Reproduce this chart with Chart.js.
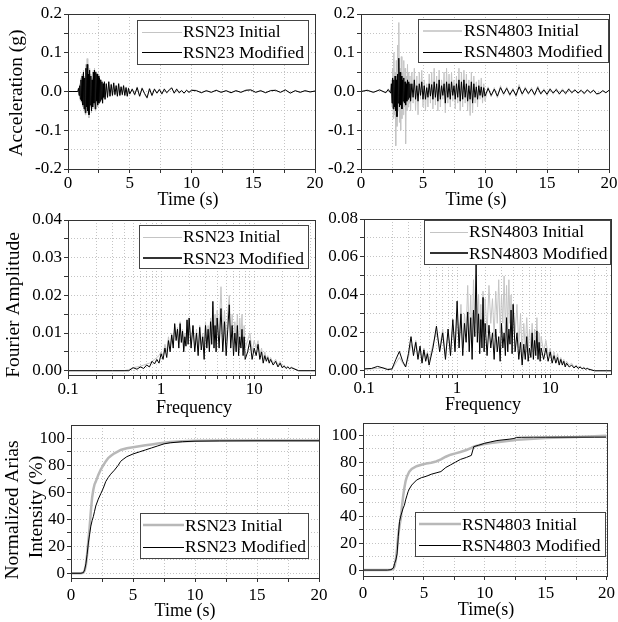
<!DOCTYPE html>
<html>
<head>
<meta charset="utf-8">
<script src="https://cdn.jsdelivr.net/npm/chart.js@4.4.0/dist/chart.umd.min.js"></script>
<style>
html, body { margin: 0; padding: 0; background: #fff; }
#wrap { position: relative; width: 618px; height: 622px; overflow: hidden; }
#wrap canvas { position: absolute; left: 0; top: 0; }
</style>
</head>
<body>
<div id="wrap">
  <canvas id="accel23" width="618" height="622"></canvas>
  <canvas id="accel4803" width="618" height="622"></canvas>
  <canvas id="fourier23" width="618" height="622"></canvas>
  <canvas id="fourier4803" width="618" height="622"></canvas>
  <canvas id="arias23" width="618" height="622"></canvas>
  <canvas id="arias4803" width="618" height="622"></canvas>
</div>
<script>
// --- RSN23 acceleration (g) vs time (s) ---
const time23 = [0, 0.4, 0.8, 0.85, 0.9, 0.95, 1.0, 1.05, 1.1, 1.15, 1.2, 1.25, 1.3, 1.35, 1.4, 1.45, 1.5, 1.55, 1.6, 1.65,
  1.7, 1.75, 1.8, 1.85, 1.9, 1.95, 2.0, 2.05, 2.1, 2.15, 2.2, 2.25, 2.3, 2.35, 2.4, 2.45, 2.5, 2.55, 2.6, 2.65,
  2.7, 2.75, 2.8, 2.85, 2.9, 2.95, 3.0,
  3.1, 3.2, 3.3, 3.4, 3.5, 3.6, 3.7, 3.8, 3.9, 4.0, 4.1, 4.2, 4.3, 4.4, 4.5, 4.6, 4.7, 4.8, 4.9, 5.0,
  5.2, 5.4, 5.6, 5.8, 6.0, 6.2, 6.4, 6.6, 6.8, 7.0, 7.2, 7.4, 7.6, 7.8, 8.0, 8.2, 8.4, 8.6, 8.8, 9.0, 9.2, 9.4, 9.6, 9.8, 10.0,
  10.4, 10.8, 11.2, 11.6, 12.0, 12.4, 12.8, 13.2, 13.6, 14.0, 14.4, 14.8, 15.2, 15.6, 16.0, 16.4, 16.8, 17.2, 17.6, 18.0,
  18.4, 18.8, 19.2, 19.6, 20.0];
const accel23Initial = [0, 0, 0, 0.01, -0.012, 0.02, -0.025, 0.035, -0.03, 0.045, -0.04, 0.055, -0.05, 0.04, -0.06, 0.07, -0.045, 0.085, -0.055, 0.05,
  -0.068, 0.06, -0.04, 0.045, -0.055, 0.035, -0.045, 0.055, -0.035, 0.06, -0.05, 0.052, -0.03, 0.048, -0.04, 0.044, -0.032, 0.038, -0.028, 0.032,
  -0.022, 0.028, -0.032, 0.022, -0.018, 0.027, -0.022,
  0.022, -0.017, 0.027, -0.014, 0.02, -0.012, 0.024, -0.01, 0.017, -0.014, 0.022, -0.012, 0.014, -0.01, 0.017, -0.012, 0.012, -0.014, 0.01, -0.008,
  0.008, -0.01, 0.012, -0.014, 0.01, -0.007, -0.018, 0.009, -0.012, 0.008, -0.006, 0.007, -0.008, 0.008, -0.005, 0.006, 0.011, -0.006, 0.008, -0.005, 0.004, -0.006, 0.005, -0.004, 0.005,
  0.003, -0.004, 0.003, -0.003, 0.004, -0.003, 0.003, -0.004, 0.003, -0.003, 0.004, 0.005, -0.003, 0.003, -0.004, 0.003, 0.004, -0.003, 0.005, -0.005,
  0.003, -0.003, 0.003, -0.002, 0.002];
const accel23Modified = [0, 0, 0, 0.008, -0.01, 0.015, -0.02, 0.03, -0.025, 0.04, -0.035, 0.05, -0.045, 0.035, -0.055, 0.06, -0.04, 0.07, -0.05, 0.045,
  -0.06, 0.055, -0.035, 0.04, -0.05, 0.03, -0.04, 0.05, -0.03, 0.055, -0.045, 0.05, -0.025, 0.045, -0.035, 0.04, -0.03, 0.035, -0.025, 0.03,
  -0.02, 0.025, -0.03, 0.02, -0.015, 0.025, -0.02,
  0.02, -0.015, 0.025, -0.012, 0.018, -0.01, 0.022, -0.008, 0.015, -0.012, 0.02, -0.01, 0.012, -0.008, 0.015, -0.01, 0.01, -0.012, 0.008, -0.006,
  0.006, -0.008, 0.01, -0.012, 0.008, -0.005, -0.016, 0.007, -0.01, 0.006, -0.004, 0.005, -0.006, 0.006, -0.003, 0.004, 0.009, -0.004, 0.006, -0.003, 0.002, -0.004, 0.003, -0.002, 0.003,
  0.002, -0.003, 0.002, -0.002, 0.003, -0.002, 0.002, -0.003, 0.002, -0.002, 0.003, 0.004, -0.002, 0.002, -0.003, 0.002, 0.003, -0.002, 0.004, -0.004,
  0.002, -0.002, 0.002, -0.001, 0.001];

// --- RSN4803 acceleration (g) vs time (s) ---
const time4803 = [0, 0.5, 1.0, 1.5, 2.0, 2.2, 2.4,
  2.45, 2.5, 2.55, 2.6, 2.65, 2.7, 2.75, 2.8, 2.85, 2.9, 2.95, 3.0, 3.05, 3.1, 3.15, 3.2, 3.25, 3.3, 3.35, 3.4,
  3.45, 3.5, 3.55, 3.6, 3.65, 3.7, 3.75, 3.8, 3.85, 3.9, 3.95, 4.0,
  4.1, 4.2, 4.3, 4.4, 4.5, 4.6, 4.7, 4.8, 4.9, 5.0, 5.1, 5.2, 5.3, 5.4, 5.5, 5.6, 5.7, 5.8, 5.9, 6.0,
  6.1, 6.2, 6.3, 6.4, 6.5, 6.6, 6.7, 6.8, 6.9, 7.0, 7.1, 7.2, 7.3, 7.4, 7.5, 7.6, 7.7, 7.8, 7.9, 8.0,
  8.1, 8.2, 8.3, 8.4, 8.5, 8.6, 8.7, 8.8, 8.9, 9.0, 9.1, 9.2, 9.3, 9.4, 9.5, 9.6, 9.7, 9.8, 9.9, 10.0,
  10.25, 10.5, 10.75, 11.0, 11.25, 11.5, 11.75, 12.0, 12.25, 12.5, 12.75, 13.0, 13.25, 13.5, 13.75, 14.0, 14.25, 14.5, 14.75, 15.0,
  15.25, 15.5, 15.75, 16.0, 16.25, 16.5, 16.75, 17.0, 17.25, 17.5, 17.75, 18.0, 18.25, 18.5, 18.75, 19.0, 19.25, 19.5, 19.75, 20.0];
const accel4803Initial = [0, 0.004, -0.003, 0.005, -0.004, 0.007, -0.006,
  0.03, -0.04, 0.06, -0.07, 0.1, -0.06, 0.05, -0.14, 0.08, -0.09, 0.12, -0.05, 0.178, -0.08, 0.06, -0.1, 0.09, -0.07, 0.05, -0.06,
  0.08, -0.04, 0.06, -0.135, 0.04, -0.05, 0.07, -0.04, 0.05, -0.03, 0.04, -0.05,
  0.05, -0.03, 0.06, -0.05, 0.04, -0.06, 0.05, -0.02, 0.055, -0.04, 0.03, -0.05, 0.02, -0.04, 0.045, -0.03, 0.05, -0.045, 0.06, -0.035,
  0.04, -0.05, 0.055, -0.04, 0.03, -0.02, 0.05, -0.055, 0.06, -0.03, 0.045, -0.04, 0.05, -0.025, 0.03, -0.045, 0.04, -0.03, 0.06, -0.05,
  0.05, -0.04, 0.055, -0.03, 0.045, -0.05, 0.03, -0.062, 0.05, -0.055, 0.04, -0.03, 0.025, -0.04, 0.03, -0.02, 0.035, -0.03, 0.02, -0.025,
  0.012, -0.014, 0.01, -0.016, 0.015, -0.01, 0.012, -0.012, 0.008, -0.014, 0.018, -0.01, 0.012, -0.008, 0.01, -0.012, 0.014, -0.008, 0.007, -0.01,
  0.009, -0.007, 0.008, -0.009, 0.007, -0.008, 0.009, -0.005, 0.006, -0.006, 0.005, -0.007, 0.006, -0.005, 0.005, -0.008, -0.006, 0.003, -0.004, 0.004];
const accel4803Modified = [0, 0.003, -0.002, 0.004, -0.003, 0.005, -0.004,
  0.02, -0.03, 0.035, -0.045, 0.03, -0.04, 0.04, -0.05, 0.03, -0.065, 0.045, -0.03, 0.086, -0.04, 0.05, -0.035, 0.04, -0.045, 0.03, -0.025,
  0.035, -0.03, 0.025, -0.035, 0.02, -0.025, 0.03, -0.02, 0.025, -0.015, 0.02, -0.025,
  0.02, -0.015, 0.03, -0.02, 0.015, -0.025, 0.02, -0.01, 0.025, -0.02, 0.015, -0.02, 0.01, -0.015, 0.02, -0.012, 0.018, -0.02, 0.025, -0.015,
  0.02, -0.025, 0.03, -0.02, 0.015, -0.01, 0.02, -0.03, 0.025, -0.015, 0.02, -0.02, 0.025, -0.01, 0.015, -0.02, 0.02, -0.015, 0.03, -0.025,
  0.025, -0.02, 0.03, -0.015, 0.02, -0.025, 0.015, -0.02, 0.025, -0.03, 0.02, -0.015, 0.012, -0.02, 0.015, -0.01, 0.012, -0.015, 0.01, -0.012,
  0.008, -0.01, 0.006, -0.012, 0.01, -0.006, 0.008, -0.008, 0.005, -0.01, 0.012, -0.006, 0.008, -0.005, 0.006, -0.008, 0.01, -0.006, 0.004, -0.007,
  0.006, -0.004, 0.005, -0.006, 0.004, -0.005, 0.006, -0.003, 0.004, -0.004, 0.003, -0.005, 0.004, -0.003, 0.003, -0.006, -0.004, 0.002, -0.003, 0.003];

// --- RSN23 Fourier amplitude vs frequency (Hz) ---
const freq23 = [0.1, 0.2, 0.3, 0.4, 0.45, 0.5, 0.55, 0.6, 0.65, 0.7, 0.75, 0.8, 0.85, 0.9, 0.95, 1.0,
  1.05, 1.1, 1.15, 1.2, 1.25, 1.3, 1.35, 1.4, 1.45, 1.5, 1.55, 1.6, 1.65, 1.7, 1.75, 1.8, 1.85, 1.9, 1.95, 2.0,
  2.1, 2.2, 2.3, 2.4, 2.5, 2.6, 2.7, 2.8, 2.9, 3.0, 3.1, 3.2, 3.3, 3.4, 3.5, 3.6, 3.7, 3.8, 3.9, 4.0,
  4.2, 4.4, 4.6, 4.8, 5.0, 5.2, 5.4, 5.6, 5.8, 6.0, 6.2, 6.4, 6.6, 6.8, 7.0, 7.2, 7.4, 7.6, 7.8, 8.0,
  8.5, 9.0, 9.5, 10, 10.5, 11, 11.5, 12, 12.5, 13, 13.5, 14, 14.5, 15,
  16, 17, 18, 19, 20, 21, 22, 23, 24, 25, 30, 40, 45];
const fourier23Initial = [0, 0, 0, 0, 0.0003, 0.0008, 0.001, 0.0012, 0.0015, 0.0018, 0.002, 0.0025, 0.003, 0.0035, 0.004, 0.005,
  0.004, 0.007, 0.005, 0.009, 0.006, 0.01, 0.007, 0.012, 0.009, 0.0115, 0.007, 0.013, 0.008, 0.011, 0.006, 0.01, 0.007, 0.013, 0.008, 0.0135,
  0.007, 0.012, 0.006, 0.011, 0.005, 0.012, 0.007, 0.01, 0.005, 0.013, 0.008, 0.012, 0.007, 0.014, 0.008, 0.017, 0.009, 0.015, 0.008, 0.016,
  0.01, 0.0223, 0.009, 0.016, 0.008, 0.015, 0.02, 0.009, 0.015, 0.007, 0.013, 0.008, 0.015, 0.007, 0.014, 0.009, 0.015, 0.007, 0.012, 0.006,
  0.008, 0.01, 0.005, 0.008, 0.006, 0.008, 0.004, 0.006, 0.003, 0.005, 0.003, 0.004, 0.0025, 0.0035,
  0.002, 0.003, 0.0015, 0.0025, 0.001, 0.0015, 0.0008, 0.0012, 0.0006, 0.001, 0, 0, 0];
const fourier23Modified = [0, 0, 0, 0, 0, 0.0008, 0.0004, 0.001, 0.0006, 0.0015, 0.001, 0.0025, 0.0018, 0.003, 0.002, 0.0045,
  0.003, 0.006, 0.0035, 0.008, 0.005, 0.0095, 0.006, 0.0125, 0.008, 0.011, 0.006, 0.0125, 0.0075, 0.0105, 0.005, 0.009, 0.0065, 0.0135, 0.007, 0.014,
  0.006, 0.012, 0.005, 0.01, 0.004, 0.0115, 0.0055, 0.009, 0.003, 0.012, 0.006, 0.011, 0.005, 0.013, 0.007, 0.0184, 0.006, 0.012, 0.005, 0.014,
  0.006, 0.0165, 0.005, 0.013, 0.004, 0.011, 0.0175, 0.006, 0.012, 0.004, 0.01, 0.005, 0.012, 0.004, 0.009, 0.006, 0.011, 0.004, 0.009, 0.003,
  0.005, 0.008, 0.003, 0.006, 0.004, 0.007, 0.003, 0.005, 0.002, 0.004, 0.0025, 0.0035, 0.002, 0.003,
  0.0015, 0.0025, 0.001, 0.002, 0.0008, 0.0012, 0.0006, 0.001, 0.0005, 0.0008, 0, 0, 0];

// --- RSN4803 Fourier amplitude vs frequency (Hz) ---
const freq4803 = [0.1, 0.12, 0.14, 0.16, 0.18, 0.2, 0.22, 0.24, 0.26, 0.28, 0.3, 0.32, 0.34, 0.36, 0.38, 0.4, 0.42, 0.44, 0.46, 0.48, 0.5,
  0.55, 0.6, 0.65, 0.7, 0.75, 0.8, 0.85, 0.9, 0.95, 1.0,
  1.05, 1.1, 1.15, 1.2, 1.25, 1.3, 1.35, 1.4, 1.45, 1.5, 1.55, 1.6, 1.65, 1.7, 1.75, 1.8, 1.85, 1.9, 1.95, 2.0,
  2.1, 2.2, 2.3, 2.4, 2.5, 2.6, 2.7, 2.8, 2.9, 3.0, 3.1, 3.2, 3.3, 3.4, 3.5, 3.6, 3.7, 3.8, 3.9, 4.0,
  4.2, 4.4, 4.6, 4.8, 5.0, 5.2, 5.4, 5.6, 5.8, 6.0, 6.2, 6.4, 6.6, 6.8, 7.0, 7.2, 7.4, 7.6, 7.8, 8.0,
  8.5, 9.0, 9.5, 10, 10.5, 11, 11.5, 12, 12.5, 13, 13.5, 14, 14.5, 15,
  16, 17, 18, 19, 20, 21, 22, 23, 24, 25, 26, 30, 40, 45];
const fourier4803Initial = [0.0008, 0.001, 0.0012, 0.0015, 0.0012, 0.0008, 0.004, 0.007, 0.004, 0.002, 0.007, 0.014, 0.01, 0.016, 0.008, 0.012, 0.006, 0.012, 0.007, 0.01, 0.005,
  0.014, 0.02, 0.012, 0.022, 0.008, 0.02, 0.01, 0.024, 0.012, 0.03,
  0.015, 0.035, 0.012, 0.03, 0.02, 0.045, 0.015, 0.04, 0.012, 0.048, 0.025, 0.05, 0.02, 0.04, 0.015, 0.035, 0.02, 0.042, 0.018, 0.038,
  0.02, 0.045, 0.025, 0.038, 0.018, 0.042, 0.025, 0.048, 0.02, 0.04, 0.025, 0.05, 0.02, 0.045, 0.022, 0.048, 0.025, 0.04, 0.018, 0.035,
  0.02, 0.035, 0.012, 0.03, 0.008, 0.025, 0.012, 0.028, 0.01, 0.022, 0.012, 0.025, 0.01, 0.022, 0.012, 0.028, 0.01, 0.02, 0.008, 0.018,
  0.01, 0.016, 0.008, 0.012, 0.006, 0.01, 0.005, 0.009, 0.004, 0.007, 0.004, 0.006, 0.003, 0.005,
  0.003, 0.004, 0.002, 0.003, 0.0015, 0.0025, 0.0012, 0.002, 0.001, 0.0015, 0.001, 0, 0, 0];
const fourier4803Modified = [0.001, 0.0012, 0.0023, 0.0015, 0.0006, 0.001, 0.006, 0.0102, 0.005, 0.002, 0.009, 0.018, 0.008, 0.015, 0.006, 0.013, 0.004, 0.011, 0.005, 0.009, 0.003,
  0.012, 0.0235, 0.01, 0.02, 0.006, 0.022, 0.008, 0.027, 0.01, 0.0367,
  0.012, 0.03, 0.008, 0.025, 0.015, 0.031, 0.01, 0.028, 0.006, 0.032, 0.018, 0.057, 0.015, 0.03, 0.009, 0.027, 0.012, 0.0387, 0.01, 0.025,
  0.008, 0.024, 0.012, 0.02, 0.006, 0.022, 0.01, 0.018, 0.005, 0.025, 0.012, 0.02, 0.008, 0.028, 0.01, 0.022, 0.014, 0.032, 0.009, 0.035,
  0.01, 0.02, 0.006, 0.015, 0.003, 0.014, 0.006, 0.018, 0.005, 0.012, 0.007, 0.02, 0.006, 0.016, 0.008, 0.021, 0.006, 0.015, 0.005, 0.012,
  0.006, 0.012, 0.005, 0.01, 0.004, 0.008, 0.004, 0.007, 0.003, 0.006, 0.003, 0.005, 0.002, 0.004,
  0.002, 0.003, 0.0015, 0.0025, 0.0012, 0.002, 0.001, 0.0015, 0.0008, 0.0012, 0.0008, 0, 0, 0];

// --- Normalized Arias intensity (%) vs time (s) ---
const ariasTime23 = [0, 0.8, 1.0, 1.1, 1.2, 1.3, 1.4, 1.5, 1.6, 1.7, 1.8, 1.9, 2.0, 2.2, 2.4, 2.6, 2.8, 3.0,
  3.2, 3.5, 3.8, 4.0, 4.2, 4.5, 5, 5.5, 6, 6.5, 7, 7.5, 8, 9, 10, 12, 15, 20];
const arias23Initial = [0, 0, 0.5, 2, 6, 14, 24, 34, 46, 56, 62, 66, 68, 73, 77, 80, 83, 85.5,
  87, 89, 90.5, 91.5, 92, 92.8, 93.5, 94.2, 95, 95.6, 96.2, 96.8, 97.3, 97.9, 98.3, 98.5, 98.5, 98.5];
const arias23Modified = [0, 0, 0.5, 2.5, 7, 14, 22.5, 29, 35, 39, 42, 46, 50, 55, 59, 63, 68, 71,
  73.5, 76.5, 80, 83, 84.5, 86.5, 88.5, 90, 91.5, 93, 94.5, 96, 96.8, 97.6, 98, 98.2, 98.3, 98.3];

const ariasTime4803 = [0, 2.0, 2.3, 2.5, 2.6, 2.7, 2.8, 2.9, 3.0, 3.1, 3.2, 3.3, 3.4, 3.5, 3.6, 3.7, 3.8, 4.0, 4.4, 4.8,
  5.2, 5.6, 6.0, 6.4, 6.8, 7.2, 7.6, 8.0, 8.5, 8.9, 9.1, 9.5, 10, 10.5, 11, 11.5, 12, 12.4, 12.6, 13,
  14, 15, 17, 19, 20];
const arias4803Initial = [0, 0, 0.3, 1, 3, 8, 16, 26, 33, 38, 47, 55, 61, 66, 69, 71, 73, 75, 77, 78,
  79, 79.5, 80.5, 82, 84, 85.5, 86.5, 87.5, 89, 90.5, 91.5, 92.5, 93.5, 94.2, 94.8, 95.3, 95.8, 96.2, 96.5, 96.8,
  97.3, 97.8, 98.5, 99.2, 99.5];
const arias4803Modified = [0, 0, 0.3, 1.5, 5, 7.5, 12, 25, 36, 40, 43, 46, 48, 52, 55, 58, 60, 63, 66.7, 68.5,
  69.5, 71, 72, 73, 76, 78, 80, 82, 83.5, 85, 91.5, 92.5, 94, 95, 96, 96.5, 97, 97.5, 98.3, 98.4,
  98.5, 98.5, 98.5, 98.5, 98.5];

// --- Tick / grid values ---
const timeLabels = [0, 5, 10, 15, 20];
const timeGrid = [0, 2.5, 5, 7.5, 10, 12.5, 15, 17.5, 20];
const accelLabels = [-0.2, -0.1, 0, 0.1, 0.2];
const accelGrid = [-0.2, -0.15, -0.1, -0.05, 0, 0.05, 0.1, 0.15, 0.2];
const freqLabels = [0.1, 1, 10];
const freqGrid = [0.1, 0.2, 0.3, 0.4, 0.5, 0.6, 0.7, 0.8, 0.9, 1, 2, 3, 4, 5, 6, 7, 8, 9, 10, 20, 30, 40];
const fourier23Labels = [0, 0.01, 0.02, 0.03, 0.04];
const fourier23Grid = [0, 0.005, 0.01, 0.015, 0.02, 0.025, 0.03, 0.035, 0.04];
const fourier4803Labels = [0, 0.02, 0.04, 0.06, 0.08];
const fourier4803Grid = [0, 0.01, 0.02, 0.03, 0.04, 0.05, 0.06, 0.07, 0.08];
const ariasLabels = [0, 20, 40, 60, 80, 100];
const ariasGrid = [0, 10, 20, 30, 40, 50, 60, 70, 80, 90, 100];

const FONT = '"Liberation Serif", "Times New Roman", serif';
const GRID_COLOR = '#c4c4c4';
const AXIS_COLOR = '#333';
const Y_W = 60, X_H = 30;

const pts = (xs, ys) => xs.map((x, i) => ({ x, y: ys[i] }));
const has = (list, v) => list.some(l => Math.abs(l - v) < 1e-9);

// frame, axis titles and the boxed legend
const decor = {
    id: 'decor',
    afterDraw(chart, args, opts) {
        const ctx = chart.ctx;
        const a = chart.chartArea;
        ctx.save();
        ctx.strokeStyle = AXIS_COLOR;
        ctx.lineWidth = 1;
        ctx.strokeRect(Math.round(a.left) + 0.5, Math.round(a.top) + 0.5,
            Math.round(a.right - a.left), Math.round(a.bottom - a.top));

        // legend
        const lg = opts.legend;
        const [x1, y1, x2, y2] = lg.box;
        ctx.fillStyle = '#fff';
        ctx.fillRect(x1, y1, x2 - x1, y2 - y1);
        ctx.strokeStyle = '#444';
        ctx.strokeRect(x1 + 0.5, y1 + 0.5, x2 - x1, y2 - y1);
        ctx.font = '17.5px ' + FONT;
        ctx.textBaseline = 'middle';
        ctx.textAlign = 'left';
        lg.rows.forEach(r => {
            // keep thin sample lines crisp
            const ly = r.width % 2 === 1 ? Math.round(r.y) + 0.5 : Math.round(r.y);
            ctx.beginPath();
            ctx.strokeStyle = r.color;
            ctx.lineWidth = r.width;
            ctx.moveTo(r.x1, ly);
            ctx.lineTo(r.x2, ly);
            ctx.stroke();
            ctx.fillStyle = '#000';
            ctx.fillText(r.text, r.tx, r.y + 1);
        });

        // axis titles
        ctx.textAlign = 'center';
        ctx.fillStyle = '#000';
        opts.titles.forEach(t => {
            ctx.save();
            ctx.font = (t.rot ? '19.5px ' : '18px ') + FONT;
            ctx.translate(t.x, t.y);
            if (t.rot) ctx.rotate(-Math.PI / 2);
            ctx.fillText(t.text, 0, 0);
            ctx.restore();
        });
        ctx.restore();
    }
};

function makePanel(id, p) {
    const [L, T, R, B] = p.area;
    const axis = (type, min, max, grid, labels, fmt, pad, fit) => ({
        type, min, max,
        afterFit: fit,
        afterBuildTicks: s => { s.ticks = grid.map(v => ({ value: v })); },
        ticks: {
            autoSkip: false, maxRotation: 0, padding: pad,
            color: '#000', font: { family: FONT, size: 17 },
            callback: v => has(labels, v) ? fmt(v) : ''
        },
        grid: { color: GRID_COLOR, lineWidth: 1, tickLength: 4, tickColor: AXIS_COLOR, tickBorderDash: [] },
        border: { display: false, dash: [1, 2] }
    });

    new Chart(document.getElementById(id), {
        type: 'line',
        data: {
            datasets: [
                { data: pts(p.x, p.initial), borderColor: p.grayColor, borderWidth: p.grayWidth, order: 1 },
                { data: pts(p.x, p.modified), borderColor: '#000', borderWidth: 1, order: 0 }
            ]
        },
        options: {
            responsive: false,
            animation: false,
            events: [],
            layout: { padding: { left: L - Y_W, top: T, right: 618 - R, bottom: 622 - B - X_H } },
            elements: { point: { radius: 0 }, line: { tension: 0 } },
            plugins: {
                legend: { display: false },
                tooltip: { enabled: false },
                decor: { legend: p.legend, titles: p.titles }
            },
            scales: {
                x: axis(p.xType, p.xMin, p.xMax, p.xGrid, p.xLabels, p.xFmt, p.xPad, s => { s.height = X_H; }),
                y: axis('linear', p.yMin, p.yMax, p.yGrid, p.yLabels, p.yFmt, 2, s => { s.width = Y_W; })
            }
        },
        plugins: [decor]
    });
}

const intFmt = v => String(Math.round(v));
const legendRows = (y1, y2, x1, x2, tx, gray, grayW, blackColor, blackW, name) => [
    { y: y1, x1, x2, tx, color: gray, width: grayW, text: name + ' Initial' },
    { y: y2, x1, x2, tx, color: blackColor, width: blackW, text: name + ' Modified' }
];

makePanel('accel23', {
    area: [68, 14, 315, 169],
    x: time23, initial: accel23Initial, modified: accel23Modified,
    grayColor: '#c4c4c4', grayWidth: 1,
    xType: 'linear', xMin: 0, xMax: 20, xGrid: timeGrid, xLabels: timeLabels, xFmt: intFmt, xPad: 0,
    yMin: -0.2, yMax: 0.2, yGrid: accelGrid, yLabels: accelLabels, yFmt: v => v.toFixed(1),
    legend: { box: [137, 20, 308, 64], rows: legendRows(31.7, 52.3, 142, 182, 183, '#c4c4c4', 1, '#000', 1, 'RSN23') },
    titles: [{ text: 'Acceleration (g)', x: 17, y: 93, rot: true }, { text: 'Time (s)', x: 188, y: 200 }]
});

makePanel('accel4803', {
    area: [361, 14, 609, 169],
    x: time4803, initial: accel4803Initial, modified: accel4803Modified,
    grayColor: '#c4c4c4', grayWidth: 1,
    xType: 'linear', xMin: 0, xMax: 20, xGrid: timeGrid, xLabels: timeLabels, xFmt: intFmt, xPad: 0,
    yMin: -0.2, yMax: 0.2, yGrid: accelGrid, yLabels: accelLabels, yFmt: v => v.toFixed(1),
    legend: { box: [418, 19, 608, 62], rows: legendRows(30.7, 51.7, 423, 462, 464, '#d0d0d0', 2, '#000', 1, 'RSN4803') },
    titles: [{ text: 'Time (s)', x: 476, y: 200 }]
});

makePanel('fourier23', {
    area: [68, 220, 315, 375],
    x: freq23, initial: fourier23Initial, modified: fourier23Modified,
    grayColor: '#c4c4c4', grayWidth: 1,
    xType: 'logarithmic', xMin: 0.1, xMax: 45, xGrid: freqGrid, xLabels: freqLabels, xFmt: v => String(v), xPad: 0,
    yMin: -0.00114, yMax: 0.04, yGrid: fourier23Grid, yLabels: fourier23Labels, yFmt: v => v.toFixed(2),
    legend: { box: [139, 225, 308, 268], rows: legendRows(236.7, 258.3, 143, 182, 183, '#c4c4c4', 1, '#333', 2, 'RSN23') },
    titles: [{ text: 'Fourier Amplitude', x: 14, y: 305, rot: true }, { text: 'Frequency', x: 194, y: 408 }]
});

makePanel('fourier4803', {
    area: [364, 219, 611, 374],
    x: freq4803, initial: fourier4803Initial, modified: fourier4803Modified,
    grayColor: '#c4c4c4', grayWidth: 1,
    xType: 'logarithmic', xMin: 0.1, xMax: 45, xGrid: freqGrid, xLabels: freqLabels, xFmt: v => String(v), xPad: 0,
    yMin: -0.0017, yMax: 0.08, yGrid: fourier4803Grid, yLabels: fourier4803Labels, yFmt: v => v.toFixed(2),
    legend: { box: [424, 220, 610, 264], rows: legendRows(231.7, 253.3, 430, 468, 469, '#c4c4c4', 1, '#333', 2, 'RSN4803') },
    titles: [{ text: 'Frequency', x: 483, y: 405 }]
});

makePanel('arias23', {
    area: [71, 425, 319, 578],
    x: ariasTime23, initial: arias23Initial, modified: arias23Modified,
    grayColor: '#b8b8b8', grayWidth: 2.5,
    xType: 'linear', xMin: 0, xMax: 20, xGrid: timeGrid, xLabels: timeLabels, xFmt: intFmt, xPad: 3,
    yMin: -3.5, yMax: 110, yGrid: ariasGrid, yLabels: ariasLabels, yFmt: intFmt,
    legend: { box: [140, 513, 308, 558], rows: legendRows(525, 546.7, 143, 184, 185, '#b8b8b8', 2.5, '#000', 1, 'RSN23') },
    titles: [
        { text: 'Normalized Arias', x: 13, y: 510, rot: true },
        { text: 'Intensity (%)', x: 37, y: 507, rot: true },
        { text: 'Time (s)', x: 185, y: 611 }
    ]
});

makePanel('arias4803', {
    area: [363, 423, 611, 576],
    x: ariasTime4803, initial: arias4803Initial, modified: arias4803Modified,
    grayColor: '#b8b8b8', grayWidth: 2.5,
    xType: 'linear', xMin: 0, xMax: 20, xGrid: timeGrid, xLabels: timeLabels, xFmt: intFmt, xPad: 3,
    yMin: -4.4, yMax: 109, yGrid: ariasGrid, yLabels: ariasLabels, yFmt: intFmt,
    legend: { box: [415, 512, 605, 556], rows: legendRows(524, 545, 419, 461, 462, '#b8b8b8', 2.5, '#000', 1, 'RSN4803') },
    titles: [{ text: 'Time(s)', x: 486, y: 610 }]
});
</script>
</body>
</html>
